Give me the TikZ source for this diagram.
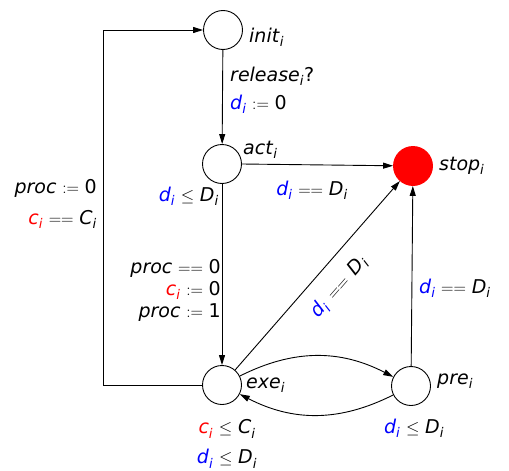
\documentclass[tikz,border=0pt]{standalone}
\usepackage{fontspec}
\setmainfont{DejaVu Sans}
\usetikzlibrary{arrows.meta}
\newcommand\vv[2]{\textit{#1}\textsubscript{\textit{#2}}}
\newcommand\opas{\hspace{0.3em}$:=$\hspace{0.3em}}
\newcommand\opeq{\hspace{0.3em}$==$\hspace{0.3em}}
\newcommand\ople{\hspace{0.3em}$\leq$\hspace{0.3em}}
\begin{document}
\begin{tikzpicture}[x=1pt,y=-1pt,
  loc/.style={circle,draw,minimum size=39pt,inner sep=0pt,line width=0.9pt},
  edge/.style={-{Triangle[length=10pt,width=6pt]},line width=0.9pt},
  lbl/.style={font=\fontsize{19}{23}\selectfont,inner sep=1pt}]
\useasboundingbox (0,0) rectangle (509,471);
\node[loc] (init) at (223,30) {};
\node[loc] (act) at (222,164) {};
\node[loc,fill=red,draw=red] (stop) at (413,166) {};
\node[loc] (exe) at (222,385) {};
\node[loc] (pre) at (411,386) {};
\coordinate (lb) at (103,385);

\draw[edge] (init) -- (act);
\draw[edge] (act.east) -- (stop);
\draw[edge] (act) -- (exe);
\draw[edge] (exe) -- (stop);
\draw[edge] (pre) -- (stop);
\draw[edge] (exe) to[bend left=27] (pre);
\draw[edge] (pre) to[bend left=27] (exe);
\draw[edge] (exe) -- (lb) |- (init);

\node[lbl,anchor=west] (tinit) at (248,37) {\vv{init}{i}};
\node[lbl,anchor=west] (trel) at (229,76) {\vv{release}{i}?};
\node[lbl,anchor=west] (tdi0) at (229,104) {\textcolor{blue}{\vv{d}{i}}\opas 0};
\node[lbl,anchor=west] (tact) at (242,150) {\vv{act}{i}};
\node[lbl,anchor=east] (tactinv) at (220,196) {\textcolor{blue}{\vv{d}{i}}\ople\vv{D}{i}};
\node[lbl] (tas) at (312,190) {\textcolor{blue}{\vv{d}{i}}\opeq\vv{D}{i}};
\node[lbl,anchor=west] (tstop) at (438,166) {\vv{stop}{i}};
\node[lbl,anchor=east,align=right] (tloop) at (98,204) {\textit{proc}\opas 0\\[8pt]\textcolor{red}{\vv{c}{i}}\opeq\vv{C}{i}};
\node[lbl,anchor=east,align=right] (tae) at (222,290) {\textit{proc}\opeq 0\\[-1pt]\textcolor{red}{\vv{c}{i}}\opas 0\\[-1pt]\textit{proc}\opas 1};
\node[lbl,rotate=49] (tdiag) at (339,287) {\textcolor{blue}{\vv{d}{i}}\hspace{0.1em}\opeq\hspace{0.1em}\vv{D}{i}};
\node[lbl,anchor=west] (tps) at (418,288) {\textcolor{blue}{\vv{d}{i}}\opeq\vv{D}{i}};
\node[lbl,anchor=west] (texe) at (245,385) {\vv{exe}{i}};
\node[lbl,anchor=west] (tpre) at (436,381) {\vv{pre}{i}};
\node[lbl,align=center] (texeinv) at (227,444) {\textcolor{red}{\vv{c}{i}}\ople\vv{C}{i}\\[7pt]\textcolor{blue}{\vv{d}{i}}\ople\vv{D}{i}};
\node[lbl] (tpreinv) at (414,428) {\textcolor{blue}{\vv{d}{i}}\ople\vv{D}{i}};
\end{tikzpicture}
\end{document}
